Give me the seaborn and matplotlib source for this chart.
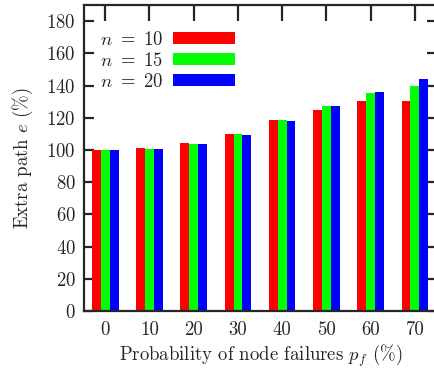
import seaborn as sns
import matplotlib.pyplot as plt
import matplotlib as mpl
import pandas as pd

failures = ["0", "10", "20", "30", "40", "50", "60", "70"]
n10 = [100, 101, 104.3, 110, 118.4, 125, 130.2, 130.6]
n15 = [100, 100.5, 103.9, 110, 118.4, 127.3, 135.5, 139.9]
n20 = [100, 100.5, 103.7, 109.2, 117.7, 127.3, 136.1, 144]
series = ["$n\\ =\\ 10$", "$n\\ =\\ 15$", "$n\\ =\\ 20$"]
colors = ["#ff0000", "#00ff00", "#0000ff"]

df = pd.DataFrame({"pf": failures * 3,
                   "extra": n10 + n15 + n20,
                   "n": [series[0]] * 8 + [series[1]] * 8 + [series[2]] * 8})

sns.set_style("ticks")
mpl.rcParams["font.family"] = "cmr10"
mpl.rcParams["mathtext.fontset"] = "cm"
mpl.rcParams["axes.unicode_minus"] = False
mpl.rcParams["axes.formatter.use_mathtext"] = True

fs = 13.5
fig = plt.figure(figsize=(4.35, 3.69), dpi=100)
ax = fig.add_axes([84 / 435, 1 - 311 / 369, 353 / 435, 306 / 369])

sns.barplot(data=df, x="pf", y="extra", hue="n", palette=colors,
            width=0.6, gap=0, linewidth=0, saturation=1, ax=ax)

ax.set_xlim(-0.48, 7.5)
ax.set_ylim(0, 190)
ax.set_yticks(range(0, 181, 20))
ax.set_xlabel("Probability of node failures $p_f$ (%)", fontsize=fs, labelpad=3)
ax.set_ylabel("Extra path $e$ (%)", fontsize=fs, labelpad=8)

for s in ax.spines.values():
    s.set_linewidth(1.6)
ax.tick_params(axis="y", direction="in", left=True, right=True,
               length=7.5, width=1.6, labelsize=fs, pad=6)
ax.tick_params(axis="x", direction="in", bottom=True, top=True,
               length=11.5, width=1.6, labelsize=fs, pad=7)

handles, labels = ax.get_legend_handles_labels()
ax.legend(handles, labels, loc="upper left", bbox_to_anchor=(0.045, 0.915),
          frameon=False, markerfirst=False, fontsize=fs,
          handlelength=3.3, handleheight=0.6, labelspacing=0.15,
          handletextpad=0.5, borderaxespad=0, borderpad=0)

fig.savefig("out.png", dpi=100)
